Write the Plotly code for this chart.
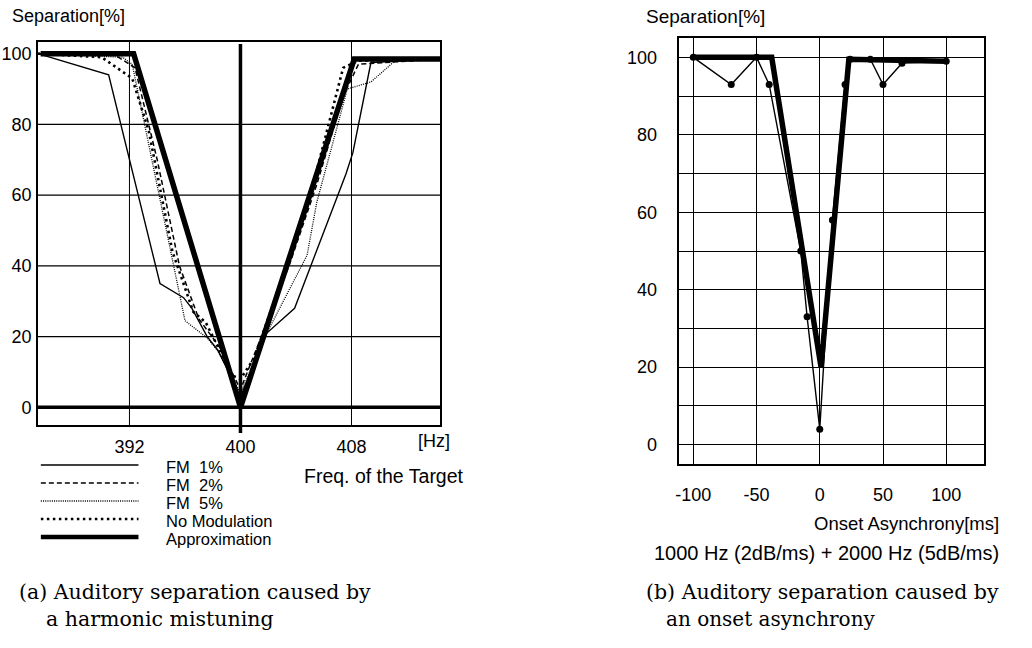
import plotly.graph_objects as go

W, H = 1032, 648

# ---------------- data: (a) harmonic mistuning ----------------
fm1_x = [385.4, 390.5, 394.2, 395.9, 396.5, 397.6, 398.4, 400.0, 401.9, 403.9, 407.6, 408.1, 409.4, 414.4]
fm1_y = [100, 94, 35, 31, 28, 20, 16, 3, 21, 28, 66, 72, 97.5, 98.5]

fm2_x = [385.4, 391.0, 392.4, 394.0, 395.6, 397.0, 398.5, 400.0, 401.5, 403.5, 405.5, 407.4, 408.5, 414.4]
fm2_y = [100, 99.5, 96, 70, 40, 25, 17, 5, 20, 40, 63, 88, 97, 98.5]

fm5_x = [385.4, 391.5, 392.2, 396.0, 397.6, 398.3, 400.0, 401.9, 404.8, 405.5, 407.7, 409.4, 411.2, 414.4]
fm5_y = [100, 99, 97, 24.5, 19.6, 16.3, 4, 21, 43, 58, 90, 92, 98.2, 98.5]

nomod_x = [385.4, 390.0, 392.2, 393.4, 395.1, 396.6, 397.5, 399.4, 400.0, 401.0, 403.5, 405.5, 407.4, 408.5, 414.4]
nomod_y = [100, 99, 93, 78, 44, 27, 24, 9, 8, 14, 42, 67, 96, 98, 98.5]

approx_a_x = [385.6, 392.3, 400.0, 408.2, 414.4]
approx_a_y = [100, 100, 0, 98.5, 98.5]

a_xticks = [392, 400, 408]
a_yticks = [0, 20, 40, 60, 80, 100]
a_xgrid = [392, 408]
a_ygrid = [20, 40, 60, 80]

# ---------------- data: (b) onset asynchrony ----------------
onset_x = [-100, -70, -50, -40, -15, -10, 0, 10, 20, 24, 40, 50, 65, 100]
onset_y = [100, 93, 100, 93, 50, 33, 4, 58, 93, 99.5, 99.5, 93, 98.5, 99]

approx_b_x = [-100, -38, 1, 23, 100]
approx_b_y = [100, 100, 20, 99.5, 99]

b_xticks = [-100, -50, 0, 50, 100]
b_yticks = [0, 10, 20, 30, 40, 50, 60, 70, 80, 90, 100]
b_yticktext = ["0", "", "20", "", "40", "", "60", "", "80", "", "100"]

legend_labels = ["FM  1%", "FM  2%", "FM  5%", "No Modulation", "Approximation"]

# ---------------- helpers ----------------
def px(x):
    return x / W

def py(y):
    return 1 - y / H

SANS = "Liberation Sans, Arial, Helvetica, sans-serif"
SERIF = "DejaVu Serif, serif"

styles = [
    dict(color="black", width=1.4),
    dict(color="black", width=1.5, dash="5px,3px"),
    dict(color="black", width=1.3, dash="1px,1.2px"),
    dict(color="black", width=2.6, dash="2.5px,3.5px"),
    dict(color="black", width=5.5),
]

fig = go.Figure()

series_a = [(fm1_x, fm1_y), (fm2_x, fm2_y), (fm5_x, fm5_y), (nomod_x, nomod_y), (approx_a_x, approx_a_y)]
for (xs, ys), st, name in zip(series_a, styles, legend_labels):
    fig.add_trace(go.Scatter(x=xs, y=ys, mode="lines", line=st, name=name,
                             showlegend=False, xaxis="x", yaxis="y", hoverinfo="skip"))

fig.add_trace(go.Scatter(x=onset_x, y=onset_y, mode="lines+markers",
                         line=dict(color="black", width=1.4),
                         marker=dict(color="black", size=7),
                         showlegend=False, xaxis="x2", yaxis="y2", hoverinfo="skip"))
fig.add_trace(go.Scatter(x=approx_b_x, y=approx_b_y, mode="lines",
                         line=dict(color="black", width=5.5),
                         showlegend=False, xaxis="x2", yaxis="y2", hoverinfo="skip"))

shapes = []
for gx in a_xgrid:
    shapes.append(dict(type="line", xref="x", yref="y domain", x0=gx, x1=gx, y0=0, y1=1,
                       line=dict(color="black", width=1), layer="below"))
for gy in a_ygrid:
    shapes.append(dict(type="line", xref="x domain", yref="y", x0=0, x1=1, y0=gy, y1=gy,
                       line=dict(color="black", width=1.2), layer="below"))
shapes.append(dict(type="line", xref="x domain", yref="y", x0=0, x1=1, y0=0, y1=0,
                   line=dict(color="black", width=3.5)))
shapes.append(dict(type="line", xref="x", yref="paper", x0=400, x1=400,
                   y0=py(433), y1=py(44), line=dict(color="black", width=3.5)))

leg_y = [465, 483, 501, 519, 537]
for st, ly in zip(styles, leg_y):
    st2 = dict(st)
    if st2["width"] > 5:
        st2["width"] = 4.5
    shapes.append(dict(type="line", xref="paper", yref="paper", x0=px(37), x1=px(135),
                       y0=py(ly), y1=py(ly), line=st2))

annotations = []
def txt(text, x, y, size=18, anchor="left", font=SANS):
    annotations.append(dict(text=text, xref="paper", yref="paper", x=px(x), y=py(y),
                            xanchor=anchor, yanchor="middle", showarrow=False,
                            font=dict(family=font, size=size, color="black")))

txt("Separation[%]", 6, 16, 18)
txt("Separation[%]", 642, 16, 19)
txt("[Hz]", 414, 441, 18)
txt("Freq. of the Target", 464, 476, 19.5, anchor="right")
for lab, ly in zip(legend_labels, [467, 485, 503, 521, 539]):
    txt(lab, 161, ly, 16.5)
txt("(a) Auditory separation caused by", 13, 592, 20.5, font=SERIF)
txt("a harmonic mistuning", 40, 619, 20.5, font=SERIF)

txt("Onset Asynchrony[ms]", 1001, 523, 18.5, anchor="right")
txt("1000 Hz (2dB/ms) + 2000 Hz (5dB/ms)", 1001, 553, 20, anchor="right")
txt("(b) Auditory separation caused by", 1001, 592, 20.5, anchor="right", font=SERIF)
txt("an onset asynchrony", 663, 619, 20, font=SERIF)

axis_common = dict(showline=True, mirror=True, linecolor="black", linewidth=1.5,
                   ticks="", zeroline=False, fixedrange=True,
                   tickfont=dict(family=SANS, size=18, color="black"))

fig.update_layout(
    width=W, height=H,
    margin=dict(l=0, r=0, t=0, b=0),
    paper_bgcolor="white", plot_bgcolor="white",
    showlegend=False,
    xaxis=dict(domain=[px(34), px(438)], range=[385.4, 414.4], anchor="y",
               tickvals=a_xticks, ticktext=[str(v) for v in a_xticks],
               showgrid=False, ticklabelstandoff=5, **axis_common),
    yaxis=dict(domain=[py(425), py(42)], range=[-5, 103.3], anchor="x",
               tickvals=a_yticks, ticktext=[str(v) for v in a_yticks],
               showgrid=False, ticklabelstandoff=1, **axis_common),
    xaxis2=dict(domain=[px(678), px(984)], range=[-111, 130], anchor="y2",
                tickvals=b_xticks, ticktext=[str(v) for v in b_xticks],
                showgrid=True, gridcolor="black", gridwidth=1.2,
                ticklabelstandoff=14, **axis_common),
    yaxis2=dict(domain=[py(464), py(38)], range=[-5, 105], anchor="x2",
                tickvals=b_yticks, ticktext=b_yticktext,
                showgrid=True, gridcolor="black", gridwidth=1.2,
                ticklabelstandoff=17, **axis_common),
    shapes=shapes,
    annotations=annotations,
)

fig.write_html("out.html", config={"displayModeBar": False},
               post_script="document.body.style.margin='0';document.body.style.overflow='hidden';")
